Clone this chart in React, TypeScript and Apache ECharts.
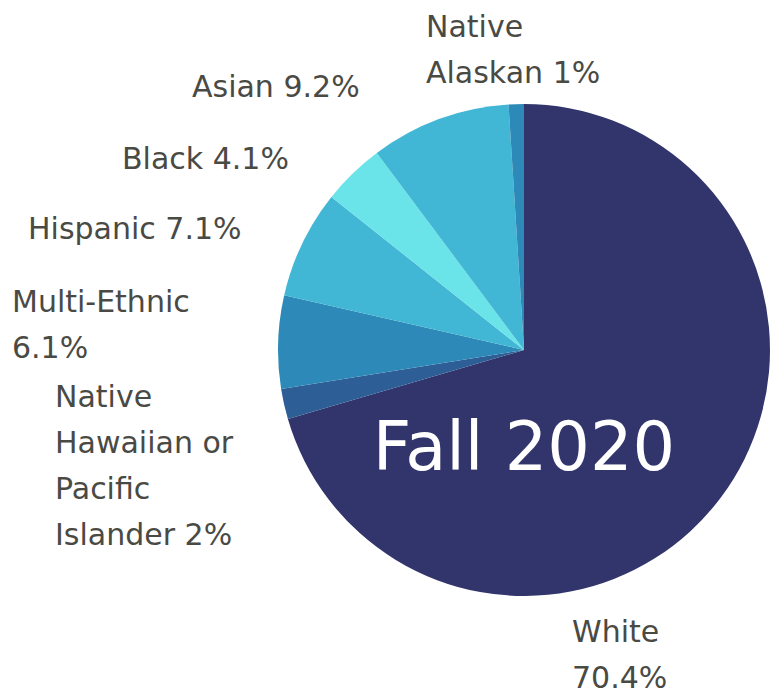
import React, { useEffect, useRef } from "react";
import * as echarts from "echarts";

const categories = ["White", "Native Hawaiian or Pacific Islander", "Multi-Ethnic", "Hispanic", "Black", "Asian", "Native Alaskan"];
const values = [70.4, 2, 6.1, 7.1, 4.1, 9.2, 1];
const labelTexts = ["White\n70.4%", "Native\nHawaiian or\nPacific\nIslander 2%", "Multi-Ethnic\n6.1%", "Hispanic 7.1%", "Black 4.1%", "Asian 9.2%", "Native\nAlaskan 1%"];
const colors = ["#31356b", "#2d5e96", "#2d8ab8", "#41b7d5", "#6ae4e8", "#41b7d5", "#2d8ab8"];
const centerTitle = "Fall 2020";

const labelPos: [number, number][] = [
  [572, 654],
  [55, 465],
  [12, 324],
  [28, 228],
  [122, 158],
  [192, 86],
  [426, 49],
];

export default function App() {
  const ref = useRef<HTMLDivElement>(null);
  useEffect(() => {
    document.body.style.margin = "0";
    const chart = echarts.init(ref.current!, null, { renderer: "svg" });
    chart.setOption({
      animation: false,
      backgroundColor: "#ffffff",
      graphic: [
        {
          type: "text",
          x: 524,
          y: 447,
          z: 100,
          style: {
            text: centerTitle,
            fill: "#ffffff",
            font: "400 67px 'DejaVu Sans'",
            textAlign: "center",
            textVerticalAlign: "middle",
          },
        },
      ],
      series: [
        {
          type: "pie",
          center: [524, 350],
          radius: [0, 246],
          startAngle: 90,
          clockwise: true,
          avoidLabelOverlap: false,
          data: categories.map((c, i) => ({
            name: c,
            value: values[i],
            itemStyle: { color: colors[i] },
            label: { formatter: labelTexts[i] },
          })),
          label: {
            show: true,
            position: "outside",
            color: "#4a4a45",
            fontFamily: "DejaVu Sans",
            fontSize: 30,
            lineHeight: 46,
            align: "left",
          },
          labelLine: { show: false },
          labelLayout: (params: any) => {
            const p = labelPos[params.dataIndex];
            return { x: p[0], y: p[1], align: "left", verticalAlign: "middle" };
          },
          itemStyle: { borderWidth: 0 },
          emphasis: { disabled: true },
        },
      ],
    });
    return () => chart.dispose();
  }, []);
  return <div ref={ref} style={{ width: 776, height: 694 }} />;
}
